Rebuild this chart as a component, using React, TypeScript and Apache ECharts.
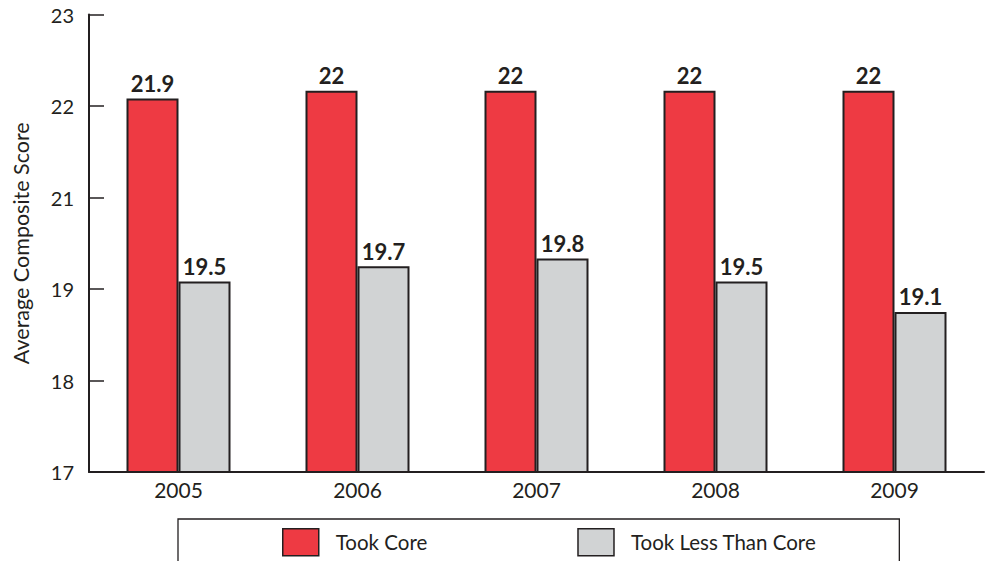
import React, { useEffect, useRef } from "react";
import * as echarts from "echarts";

const years = ["2005", "2006", "2007", "2008", "2009"];
const tookCore = [21.9, 22, 22, 22, 22];
const tookLessThanCore = [19.5, 19.7, 19.8, 19.5, 19.1];
// six evenly spaced ticks from 17 to 23, shown rounded to whole numbers
const yTickValues = [17, 18.2, 19.4, 20.6, 21.8, 23];
const seriesNames = ["Took Core", "Took Less Than Core"];

const INK = "#231F20";
const FONT = "Lato";

export default function App() {
  const ref = useRef<HTMLDivElement>(null);

  useEffect(() => {
    if (!ref.current) return;
    const chart = echarts.init(ref.current, undefined, { renderer: "svg" });
    const barLabel = {
      show: true,
      position: "top",
      distance: 4,
      fontFamily: FONT,
      fontWeight: "bold",
      fontSize: 22,
      color: INK,
    };
    chart.setOption({
      animation: false,
      textStyle: { fontFamily: FONT, color: INK },
      grid: { left: 89, right: 6, top: 14.5, bottom: 89, containLabel: false },
      xAxis: {
        type: "category",
        data: years,
        axisLine: { lineStyle: { color: INK, width: 2 } },
        axisTick: { show: false },
        axisLabel: { fontSize: 21, color: INK, fontFamily: FONT, margin: 7 },
      },
      yAxis: {
        type: "value",
        min: 17,
        max: 23,
        name: "Average Composite Score",
        nameLocation: "middle",
        nameGap: 57,
        nameTextStyle: { fontSize: 21.5, color: INK, fontFamily: FONT },
        axisLine: { show: true, lineStyle: { color: INK, width: 2 } },
        axisTick: {
          show: true,
          inside: true,
          length: 15,
          customValues: yTickValues,
          lineStyle: { color: INK, width: 1.5 },
        },
        axisLabel: {
          customValues: yTickValues,
          formatter: (v: number) => String(Math.round(v)),
          fontSize: 20,
          color: INK,
          fontFamily: FONT,
          margin: 15,
        },
        splitLine: { show: false },
      },
      legend: {
        left: 178,
        top: 519,
        data: seriesNames,
        icon: "rect",
        itemWidth: 36,
        itemHeight: 27,
        itemGap: 150,
        padding: [9, 83, 20, 104],
        borderColor: INK,
        borderWidth: 1.3,
        itemStyle: { borderWidth: 1.5, borderColor: INK },
        textStyle: {
          fontSize: 20.5,
          color: INK,
          fontFamily: FONT,
          padding: [0, 0, 0, 12],
        },
      },
      series: [
        {
          name: seriesNames[0],
          type: "bar",
          data: tookCore,
          barWidth: 52,
          barGap: "0%",
          itemStyle: { color: "#EE3A43", borderColor: INK, borderWidth: 2 },
          label: barLabel,
        },
        {
          name: seriesNames[1],
          type: "bar",
          data: tookLessThanCore,
          barWidth: 52,
          barGap: "0%",
          itemStyle: { color: "#D1D3D4", borderColor: INK, borderWidth: 2 },
          label: barLabel,
        },
      ],
    });
    return () => chart.dispose();
  }, []);

  return (
    <div
      ref={ref}
      style={{ position: "fixed", left: 0, top: 0, width: 990, height: 561, background: "#fff" }}
    />
  );
}
